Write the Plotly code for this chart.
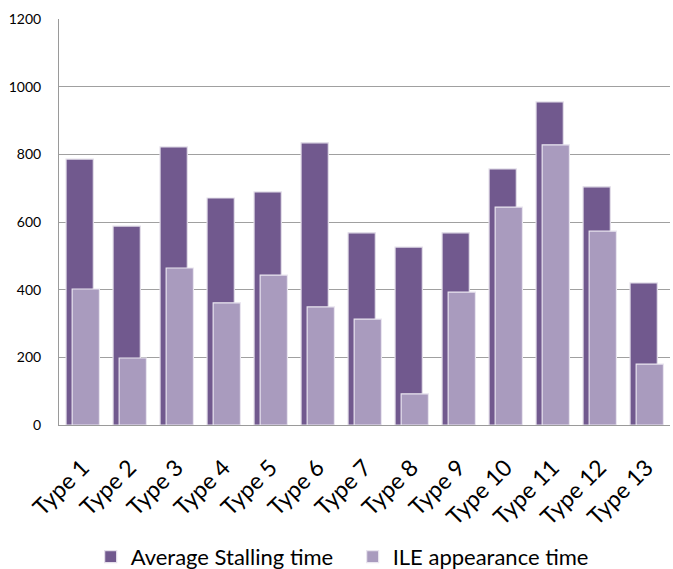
import plotly.graph_objects as go

categories = ["Type 1", "Type 2", "Type 3", "Type 4", "Type 5", "Type 6", "Type 7",
              "Type 8", "Type 9", "Type 10", "Type 11", "Type 12", "Type 13"]
stalling = [786, 588, 822, 671, 689, 834, 568, 526, 568, 757, 955, 704, 420]
ile = [402, 198, 464, 361, 443, 349, 313, 92, 393, 644, 828, 573, 180]
y_ticks = [0, 200, 400, 600, 800, 1000, 1200]

dark = "#71598E"
light = "#A99BBE"
font_family = "Lato, Carlito, 'Liberation Sans', sans-serif"

fig = go.Figure()
fig.add_trace(go.Bar(
    x=categories, y=stalling, name="Average Stalling time",
    marker=dict(color=dark, line=dict(color="#E4DFEA", width=1.2)),
    width=0.58, offset=-0.35,
))
fig.add_trace(go.Bar(
    x=categories, y=ile, name="ILE appearance time",
    marker=dict(color=light, line=dict(color="#E9E5EF", width=1.2)),
    width=0.58, offset=-0.22,
))

fig.update_layout(
    width=673, height=569,
    margin=dict(l=59, r=3, t=19, b=144),
    barmode="overlay",
    plot_bgcolor="white", paper_bgcolor="white",
    font=dict(family=font_family, color="#000000"),
    showlegend=True,
    legend=dict(orientation="h", xref="container", yref="container",
                x=0.524, xanchor="center", y=0.0215, yanchor="middle",
                font=dict(size=22, family=font_family), traceorder="normal",
                itemwidth=30, entrywidth=217),
)
fig.update_xaxes(
    type="category", tickangle=-45, tickfont=dict(size=23, family=font_family),
    showline=True, linecolor="#9A9A9A", linewidth=1, showgrid=False,
    ticks="", automargin=False, ticklabelstandoff=19,
)
fig.update_yaxes(
    range=[0, 1200], tickvals=y_ticks, tickfont=dict(size=14, family=font_family),
    showline=True, linecolor="#9A9A9A", linewidth=1,
    showgrid=True, gridcolor="#A0A0A0", gridwidth=1,
    ticks="", zeroline=False, automargin=False, ticklabelstandoff=14,
)

fig.write_html("out.html")
